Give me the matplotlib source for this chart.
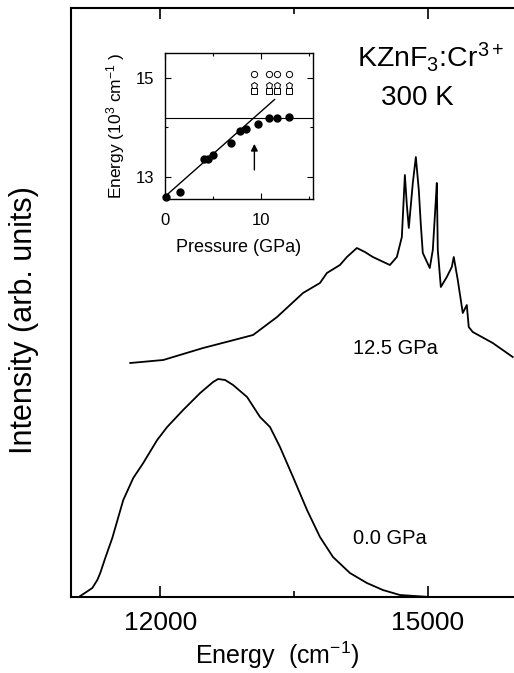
import matplotlib
matplotlib.use("Agg")
import matplotlib.pyplot as plt

plt.rcParams['font.family'] = ['Liberation Sans', 'DejaVu Sans']
plt.rcParams['mathtext.fontset'] = 'custom'
plt.rcParams['mathtext.rm'] = 'Liberation Sans'
plt.rcParams['mathtext.it'] = 'Liberation Sans:italic'

# spectrum at 0.0 GPa (energy in cm-1, intensity arb. units)
e_0gpa = [11104, 11172, 11239, 11295, 11328, 11384, 11463, 11586, 11698, 11810,
          11966, 12078, 12257, 12448, 12593, 12649, 12728, 12817, 12974, 13119,
          13231, 13343, 13489, 13646, 13791, 13937, 14127, 14317, 14496, 14687,
          15022, 15996]
i_0gpa = [1, 5, 9, 17, 24, 39, 59, 97, 119, 134,
          157, 170, 187, 204, 215, 218, 217, 212, 200, 180,
          170, 150, 120, 87, 60, 40, 24, 14, 7, 2,
          0, 0]

# spectrum at 12.5 GPa
e_125gpa = [11664, 12034, 12481, 12784, 13041, 13310, 13601, 13791, 13869, 14015,
            14093, 14205, 14295, 14384, 14575, 14653, 14709, 14743, 14765, 14787,
            14832, 14866, 14899, 14922, 14944, 15022, 15056, 15090, 15101, 15112,
            15146, 15213, 15269, 15291, 15336, 15392, 15437, 15459, 15504, 15728,
            15952]
i_125gpa = [234, 237, 249, 256, 262, 280, 304, 314, 324, 332,
            340, 349, 345, 340, 332, 340, 360, 422, 392, 369,
            414, 440, 407, 372, 344, 329, 347, 397, 414, 347,
            310, 320, 330, 340, 317, 284, 292, 270, 265, 254,
            240]

# inset: peak energy vs pressure
p_filled = [0.1, 1.6, 4.1, 4.5, 5.0, 6.9, 7.8, 8.4, 9.7, 10.8, 11.7, 12.9]
e_filled = [12.6, 12.7, 13.36, 13.36, 13.44, 13.69, 13.93, 13.97, 14.07, 14.19, 14.19, 14.21]
p_open = [9.3, 10.8, 11.7, 12.9]
e_circ = [15.08, 15.08, 15.08, 15.08]
e_pent = [14.86, 14.86, 14.86, 14.86]
e_sq = [14.74, 14.74, 14.74, 14.74]
fit_p = [0.0, 11.4]
fit_e = [12.6, 14.56]
level_e = 14.19
arrow_p = 9.3

fig = plt.figure(figsize=(5.14, 6.73), dpi=100)
ax = fig.add_axes([71 / 514, 76 / 673, 446 / 514, 589 / 673])
ax.plot(e_0gpa, i_0gpa, color='k', linewidth=1.3)
ax.plot(e_125gpa, i_125gpa, color='k', linewidth=1.3)
ax.set_xticks([12000, 15000])
ax.set_xticks([13500], minor=True)
ax.set_yticks([])
ax.set_xlim(11000, 16000)
ax.set_ylim(0, 589)
ax.tick_params(axis='x', which='both', direction='in', top=True, labelsize=19, width=1.2, pad=10)
ax.tick_params(axis='x', which='major', length=8)
ax.tick_params(axis='x', which='minor', length=4)
for s in ax.spines.values():
    s.set_linewidth(1.5)
ax.set_xlabel('Energy  (cm$^{-1}$)', fontsize=18)
ax.xaxis.set_label_coords((277 - 71) / 446, -0.073)
ax.set_ylabel('Intensity (arb. units)', fontsize=22)
ax.yaxis.set_label_coords(-0.072, 0.47)

ax.text(14210, 540, 'KZnF$_3$:Cr$^{3+}$', fontsize=20.5, ha='left', va='center')
ax.text(14480, 499, '300 K', fontsize=20, ha='left', va='center')
ax.text(14160, 249, '12.5 GPa', fontsize=14.5, ha='left', va='center')
ax.text(14160, 59, '0.0 GPa', fontsize=14.5, ha='left', va='center')

# inset
ins = fig.add_axes([165 / 514, 474 / 673, 148 / 514, 146 / 673])
ins.plot(fit_p, fit_e, color='k', linewidth=1.0)
ins.axhline(level_e, color='k', linewidth=0.8)
ins.plot(p_filled, e_filled, 'o', color='k', markersize=5, clip_on=False)
ins.plot(p_open, e_circ, 'o', mfc='white', mec='k', mew=0.7, markersize=4.5)
ins.plot(p_open, e_pent, 'p', mfc='white', mec='k', mew=0.7, markersize=5)
ins.plot(p_open, e_sq, 's', mfc='white', mec='k', mew=0.7, markersize=4)
ins.annotate('', xy=(arrow_p, 13.72), xytext=(arrow_p, 13.08),
             arrowprops=dict(arrowstyle='-|>', color='k', lw=1.0, mutation_scale=10))
ins.set_xticks([0, 10])
ins.set_xticks([5, 15], minor=True)
ins.set_yticks([13, 15])
ins.set_yticks([14], minor=True)
ins.set_xlim(0, 15.4)
ins.set_ylim(12.55, 15.5)
ins.tick_params(which='both', direction='in', top=True, right=True, labelsize=12, width=0.8)
ins.tick_params(axis='x', which='both', pad=10)
ins.tick_params(axis='y', which='both', pad=8)
ins.tick_params(which='major', length=4)
ins.tick_params(which='minor', length=2.5)
for s in ins.spines.values():
    s.set_linewidth(1.0)
ins.set_xlabel('Pressure (GPa)', fontsize=13, labelpad=8)
ins.set_ylabel('Energy (10$^3$ cm$^{-1}$ )', fontsize=12.5, labelpad=6)

fig.savefig('out.png', dpi=100)
